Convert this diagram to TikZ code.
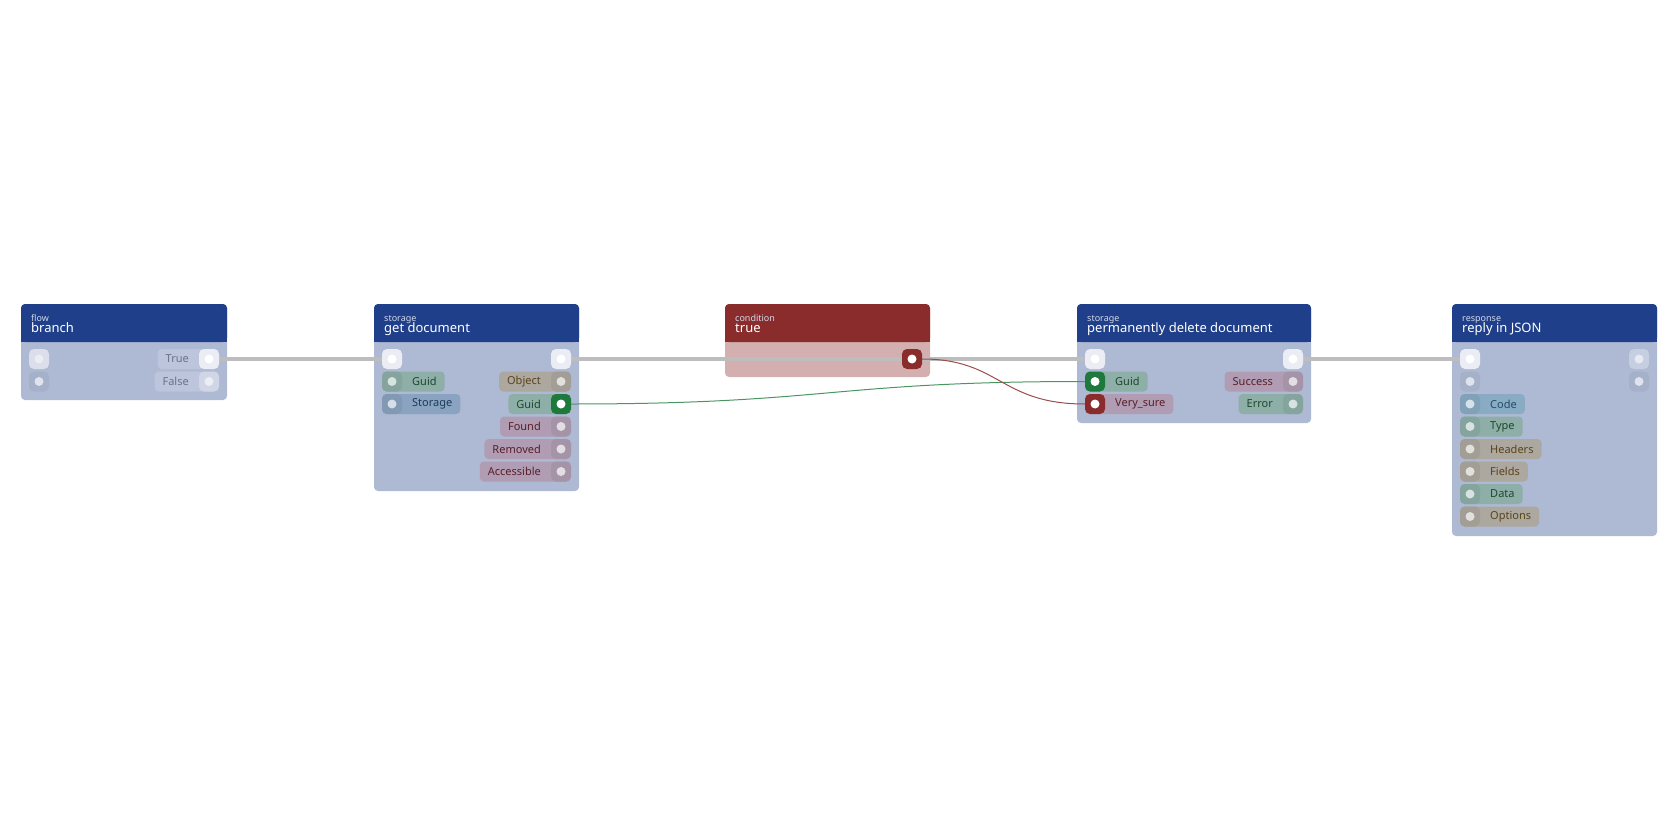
\documentclass[tikz,border=0pt]{standalone}
\usepackage{fontspec}
\setmainfont{Noto Sans}
\usetikzlibrary{backgrounds}
\definecolor{hdblue}{HTML}{1F3F8A}
\definecolor{bdblue}{HTML}{AEB9D4}
\definecolor{hdred}{HTML}{8B2C2C}
\definecolor{bdred}{HTML}{D4AFB0}
\definecolor{pgreen}{HTML}{8EAEA8}
\definecolor{pblue}{HTML}{8AA3C0}
\definecolor{pcode}{HTML}{89ABC4}
\definecolor{pyellow}{HTML}{ACA79F}
\definecolor{pred}{HTML}{B09DB3}
\definecolor{pflow}{HTML}{BCC5DC}
\definecolor{tgreen}{HTML}{1C4A2C}
\definecolor{tblue}{HTML}{1C3A5A}
\definecolor{tcode}{HTML}{1F4F6A}
\definecolor{tyellow}{HTML}{5A4418}
\definecolor{tred}{HTML}{5A1E2A}
\definecolor{tflow}{HTML}{6A7288}
\definecolor{wire}{HTML}{BDBDBD}
\definecolor{pgood}{HTML}{1E7A3C}
\tikzset{
  box/.style={rounded corners=4pt},
  cat/.style={anchor=base west, text=white!80!hdblue, font=\fontsize{9}{9}\selectfont, inner sep=0},
  title/.style={anchor=base west, text=white, font=\fontsize{13}{13}\selectfont, inner sep=0},
  port/.style={rounded corners=5pt, minimum size=20pt, inner sep=0, draw=none},
  dot/.style={circle, minimum size=9pt, inner sep=0},
  pill/.style={rounded corners=4pt, minimum height=20pt, inner ysep=0, inner xsep=8pt, font=\fontsize{11}{11}\selectfont},
}
% header + body of one block: #1 left, #2 right, #3 bottom, #4 header, #5 body
\newcommand\block[5]{%
  \fill[#5, box] (#1,304) rectangle (#2,#3);
  \fill[#4, box] (#1,304) rectangle (#2,342);
  \fill[#4] (#1,330) rectangle (#2,342);
}
\begin{document}
\begin{tikzpicture}[x=1pt, y=-1pt]
\useasboundingbox (0,0) rectangle (1680,840);
\begin{pgfonlayer}{background}
  \block{21}{227}{400}{hdblue}{bdblue}
  \block{374}{579}{491}{hdblue}{bdblue}
  \block{725}{930}{377}{hdred}{bdred}
  \block{1077}{1311}{423}{hdblue}{bdblue}
  \block{1452}{1657}{536}{hdblue}{bdblue}
\end{pgfonlayer}
% headers
\node[cat] (br-c) at (31,321) {flow};
\node[title] (br-t) at (31,332) {branch};
\node[cat] (gd-c) at (384,321) {storage};
\node[title] (gd-t) at (384,332) {get document};
\node[cat] (cd-c) at (735,321) {condition};
\node[title] (cd-t) at (735,332) {true};
\node[cat] (dl-c) at (1087,321) {storage};
\node[title] (dl-t) at (1087,332) {permanently delete document};
\node[cat] (rp-c) at (1462,321) {response};
\node[title] (rp-t) at (1462,332) {reply in JSON};
% branch
\node[pill, fill=pflow, text=tflow, anchor=east] (br-true) at (219,359) {True\hspace*{22pt}};
\node[pill, fill=pflow, text=tflow, anchor=east] (br-false) at (219,381.5) {False\hspace*{22pt}};
\node[port, fill=white!55!bdblue] (br-in) at (39,359) {};
\node[port, fill=black!5!bdblue] (br-in2) at (39,381.5) {};
\node[port, fill=white!75!bdblue] (br-out) at (209,359) {};
\node[port, fill=white!30!pflow] (br-out2) at (209,381.5) {};
\foreach \n/\c in {br-in/white!75!bdblue, br-in2/white!60!bdblue, br-out/white, br-out2/white!70!pflow}
  \node[dot, fill=\c] at (\n) {};
% get document
\node[pill, fill=pgreen, text=tgreen, anchor=west] (gd-guid) at (382,381.5) {\hspace*{22pt}Guid};
\node[pill, fill=pblue, text=tblue, anchor=west] (gd-st) at (382,404) {\hspace*{22pt}Storage};
\node[pill, fill=pyellow, text=tyellow, anchor=east] (gd-obj) at (571,381.5) {Object\hspace*{22pt}};
\node[pill, fill=pgreen, text=tgreen, anchor=east] (gd-og) at (571,404) {Guid\hspace*{22pt}};
\node[pill, fill=pred, text=tred, anchor=east] (gd-f) at (571,426.5) {Found\hspace*{22pt}};
\node[pill, fill=pred, text=tred, anchor=east] (gd-r) at (571,449) {Removed\hspace*{22pt}};
\node[pill, fill=pred, text=tred, anchor=east] (gd-a) at (571,471.5) {Accessible\hspace*{22pt}};
\node[port, fill=white!75!bdblue] (gd-in) at (392,359) {};
\node[port, fill=white!75!bdblue] (gd-out) at (561,359) {};
\node[port, fill=black!6!pgreen] (gd-p1) at (392,381.5) {};
\node[port, fill=black!6!pblue] (gd-p2) at (392,404) {};
\node[port, fill=black!6!pyellow] (gd-p3) at (561,381.5) {};
\node[port, fill=pgood] (gd-p4) at (561,404) {};
\node[port, fill=black!6!pred] (gd-p5) at (561,426.5) {};
\node[port, fill=black!6!pred] (gd-p6) at (561,449) {};
\node[port, fill=black!6!pred] (gd-p7) at (561,471.5) {};
\foreach \n/\c in {gd-in/white, gd-out/white, gd-p1/white!65!pgreen, gd-p2/white!65!pblue,
  gd-p3/white!65!pyellow, gd-p4/white, gd-p5/white!65!pred, gd-p6/white!65!pred, gd-p7/white!65!pred}
  \node[dot, fill=\c] at (\n) {};
% condition
\node[port, fill=hdred] (cd-out) at (912,359) {};
\node[dot, fill=white] at (cd-out) {};
% permanently delete
\node[pill, fill=pgreen, text=tgreen, anchor=west] (dl-guid) at (1085,381.5) {\hspace*{22pt}Guid};
\node[pill, fill=pred, text=tred, anchor=west] (dl-vs) at (1085,404) {\hspace*{22pt}Very\_sure};
\node[pill, fill=pred, text=tred, anchor=east] (dl-s) at (1303,381.5) {Success\hspace*{22pt}};
\node[pill, fill=pgreen, text=tgreen, anchor=east] (dl-e) at (1303,404) {Error\hspace*{22pt}};
\node[port, fill=white!75!bdblue] (dl-in) at (1095,359) {};
\node[port, fill=white!75!bdblue] (dl-out) at (1293,359) {};
\node[port, fill=pgood] (dl-p1) at (1095,381.5) {};
\node[port, fill=hdred] (dl-p2) at (1095,404) {};
\node[port, fill=black!6!pred] (dl-p3) at (1293,381.5) {};
\node[port, fill=black!6!pgreen] (dl-p4) at (1293,404) {};
\foreach \n/\c in {dl-in/white, dl-out/white, dl-p1/white, dl-p2/white, dl-p3/white!65!pred, dl-p4/white!65!pgreen}
  \node[dot, fill=\c] at (\n) {};
% reply in JSON
\foreach \t/\y/\f/\c [count=\i] in {Code/426.5/pcode/tcode, Type/449/pgreen/tgreen, Headers/471.5/pyellow/tyellow,
  Fields/494/pyellow/tyellow, Data/516.5/pgreen/tgreen, Options/539/pyellow/tyellow}
{
  \node[pill, fill=\f, text=\c, anchor=west] (rp-l\i) at (1460,\y-22.5) {\hspace*{22pt}\t};
  \node[port, fill=black!6!\f] (rp-p\i) at (1470,\y-22.5) {};
  \node[dot, fill=white!65!\f] at (rp-p\i) {};
}
\node[port, fill=white!75!bdblue] (rp-in) at (1470,359) {};
\node[port, fill=black!5!bdblue] (rp-in2) at (1470,381.5) {};
\node[port, fill=white!30!bdblue] (rp-out) at (1639,359) {};
\node[port, fill=black!5!bdblue] (rp-out2) at (1639,381.5) {};
\foreach \n/\c in {rp-in/white, rp-in2/white!60!bdblue, rp-out/white!70!bdblue, rp-out2/white!60!bdblue}
  \node[dot, fill=\c] at (\n) {};
% wires
\begin{pgfonlayer}{background}
  \draw[wire, line width=4pt] (br-out) -- (gd-in);
  \draw[wire, line width=4pt] (gd-out) -- (dl-in);
  \draw[wire, line width=4pt] (dl-out) -- (rp-in);
  \draw[pgood!80!white, line width=1pt] (gd-p4) .. controls (830,404) and (830,381.5) .. (dl-p1);
  \draw[hdred!85!white, line width=1pt] (cd-out) .. controls (1000,359) and (1000,404) .. (dl-p2);
\end{pgfonlayer}
\end{tikzpicture}
\end{document}
